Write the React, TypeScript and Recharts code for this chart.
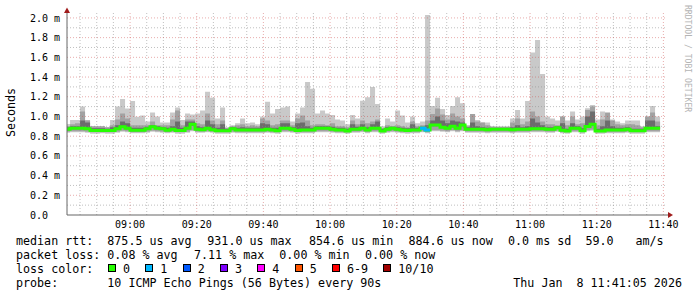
import React from 'react';
import { ComposedChart, Area, Line, XAxis, YAxis, ReferenceLine, ReferenceDot } from 'recharts';

const FONT = '"DejaVu Sans Mono", monospace';

// 90 s bins (minutes since midnight), first bin starts 08:40:30
const binStart = 520.5;
const binStep = 1.5;
const xDomain: [number, number] = [521.0833, 701.0833];
const yDomain: [number, number] = [0, 2.05];

const xTicks = [540, 560, 580, 600, 620, 640, 660, 680, 700];
const yTicks = [0, 0.2, 0.4, 0.6, 0.8, 1.0, 1.2, 1.4, 1.6, 1.8, 2.0];
const minorY = [0.1, 0.3, 0.5, 0.7, 0.9, 1.1, 1.3, 1.5, 1.7, 1.9];
const majorY = [0.2, 0.4, 0.6, 0.8, 1.0, 1.2, 1.4, 1.6, 1.8, 2.0];
const minorX = [525, 530, 535, 545, 550, 555, 565, 570, 575, 585, 590, 595, 605, 610, 615,
  625, 630, 635, 645, 650, 655, 665, 670, 675, 685, 690, 695];
const majorX = [540, 560, 580, 600, 620, 640, 660, 680, 700];

// smoke: outer band top (max ping, ms)
const maxV = [0.924, 0.964, 0.964, 1.10, 0.964, 0.897, 0.897, 0.897, 0.89, 0.964,
  1.10, 1.178, 1.08, 1.157, 0.998, 1.01, 0.95, 1.04, 1.0, 0.94,
  0.94, 1.04, 1.09, 0.964, 1.03, 1.02, 1.03, 1.06, 1.25, 1.19,
  0.98, 1.09, 0.89, 0.91, 0.93, 0.98, 0.93, 0.94, 0.92, 1.0,
  1.15, 1.03, 1.076, 1.09, 1.10, 0.95, 1.03, 1.09, 1.35, 1.28,
  1.03, 1.06, 1.03, 1.015, 0.97, 0.96, 0.92, 1.015, 0.98, 1.16,
  1.195, 1.30, 1.127, 0.90, 0.98, 0.95, 1.06, 1.01, 0.94, 1.0,
  0.93, 0.95, 2.03, 1.107, 1.19, 1.076, 1.015, 1.107, 1.195, 1.134,
  0.914, 1.025, 0.964, 0.94, 0.94, 0.904, 0.9, 0.9, 0.9, 0.98,
  1.066, 0.98, 1.157, 1.648, 1.777, 1.43, 1.0, 0.98, 0.96, 1.0,
  0.96, 1.05, 0.97, 1.0, 1.083, 1.117, 0.97, 1.05, 0.99, 0.97,
  0.95, 0.93, 0.96, 0.96, 0.96, 0.90, 1.0, 1.107, 1.0];

// middle band top
const p2 = [0.90, 0.92, 0.93, 1.05, 0.96, 0.90, 0.90, 0.90, 0.89, 0.91,
  0.97, 1.03, 0.98, 0.91, 0.91, 0.91, 0.91, 0.95, 0.91, 0.91,
  0.91, 0.97, 1.06, 0.91, 0.97, 0.97, 0.93, 0.92, 1.03, 0.96,
  0.92, 0.96, 0.88, 0.90, 0.91, 0.92, 0.90, 0.91, 0.90, 0.98,
  0.96, 0.91, 0.92, 0.96, 0.96, 0.91, 0.98, 1.01, 0.96, 0.91,
  0.92, 0.92, 0.91, 0.93, 0.90, 0.90, 0.89, 0.96, 0.92, 0.96,
  0.93, 0.95, 0.97, 0.88, 0.91, 0.90, 0.91, 0.90, 0.89, 0.95,
  0.90, 0.91, 0.96, 1.025, 1.08, 1.02, 0.97, 1.03, 1.0, 0.98,
  0.90, 1.025, 0.95, 0.94, 0.91, 0.89, 0.89, 0.89, 0.89, 0.94,
  0.98, 0.92, 0.95, 1.05, 1.0, 0.95, 0.92, 0.92, 0.91, 1.0,
  0.91, 1.0, 0.92, 0.93, 1.066, 1.10, 0.91, 0.97, 1.04, 0.96,
  0.92, 0.91, 0.92, 0.92, 0.91, 0.89, 1.0, 1.04, 0.95];

// inner (dark) band top
const p3 = [0.89, 0.90, 0.90, 0.96, 0.94, 0.88, 0.88, 0.88, 0.875, 0.89,
  0.91, 0.95, 0.93, 0.885, 0.885, 0.885, 0.895, 0.91, 0.90, 0.89,
  0.885, 0.90, 0.95, 0.885, 0.95, 0.95, 0.90, 0.89, 0.96, 0.92,
  0.885, 0.92, 0.875, 0.89, 0.885, 0.89, 0.885, 0.885, 0.885, 0.93,
  0.92, 0.885, 0.885, 0.93, 0.93, 0.89, 0.93, 0.94, 0.90, 0.885,
  0.90, 0.90, 0.90, 0.895, 0.885, 0.885, 0.875, 0.92, 0.895, 0.92,
  0.89, 0.92, 0.95, 0.875, 0.89, 0.895, 0.89, 0.885, 0.88, 0.92,
  0.885, 0.895, 0.91, 0.96, 1.0, 0.96, 0.93, 0.96, 0.95, 0.94,
  0.89, 0.94, 0.90, 0.89, 0.885, 0.885, 0.885, 0.885, 0.885, 0.89,
  0.91, 0.89, 0.90, 0.98, 0.94, 0.91, 0.89, 0.89, 0.90, 0.93,
  0.875, 0.93, 0.90, 0.88, 1.0, 1.05, 0.875, 0.90, 0.96, 0.90,
  0.885, 0.885, 0.89, 0.875, 0.875, 0.875, 0.96, 0.96, 0.90];

// median rtt
const med = [0.87, 0.88, 0.88, 0.88, 0.875, 0.857, 0.857, 0.857, 0.857, 0.857,
  0.875, 0.895, 0.88, 0.86, 0.86, 0.86, 0.875, 0.895, 0.88, 0.875,
  0.86, 0.87, 0.857, 0.857, 0.88, 0.92, 0.87, 0.865, 0.88, 0.865,
  0.855, 0.855, 0.855, 0.875, 0.862, 0.862, 0.862, 0.862, 0.862, 0.862,
  0.87, 0.862, 0.855, 0.88, 0.88, 0.87, 0.857, 0.862, 0.862, 0.862,
  0.88, 0.88, 0.88, 0.87, 0.862, 0.862, 0.853, 0.87, 0.87, 0.88,
  0.862, 0.88, 0.88, 0.853, 0.87, 0.88, 0.87, 0.862, 0.857, 0.862,
  0.862, 0.88, 0.862, 0.914, 0.914, 0.89, 0.88, 0.90, 0.88, 0.914,
  0.87, 0.87, 0.87, 0.87, 0.865, 0.87, 0.87, 0.87, 0.87, 0.865,
  0.87, 0.87, 0.87, 0.875, 0.875, 0.875, 0.87, 0.87, 0.885, 0.86,
  0.853, 0.88, 0.88, 0.855, 0.897, 0.92, 0.853, 0.853, 0.862, 0.862,
  0.862, 0.862, 0.87, 0.855, 0.855, 0.855, 0.88, 0.88, 0.88];

// band bottoms
const lo1 = [0.835, 0.84, 0.84, 0.84, 0.835, 0.825, 0.825, 0.83, 0.825, 0.825,
  0.835, 0.845, 0.84, 0.83, 0.83, 0.83, 0.835, 0.845, 0.84, 0.835,
  0.83, 0.835, 0.825, 0.825, 0.835, 0.85, 0.835, 0.835, 0.84, 0.835,
  0.825, 0.825, 0.825, 0.835, 0.83, 0.83, 0.83, 0.83, 0.83, 0.83,
  0.835, 0.83, 0.825, 0.84, 0.84, 0.835, 0.825, 0.83, 0.83, 0.83,
  0.84, 0.84, 0.84, 0.835, 0.83, 0.83, 0.825, 0.835, 0.835, 0.84,
  0.83, 0.84, 0.84, 0.825, 0.835, 0.84, 0.835, 0.83, 0.825, 0.83,
  0.83, 0.84, 0.83, 0.85, 0.85, 0.845, 0.84, 0.85, 0.84, 0.85,
  0.835, 0.835, 0.835, 0.835, 0.83, 0.835, 0.835, 0.835, 0.835, 0.83,
  0.835, 0.835, 0.835, 0.84, 0.84, 0.84, 0.835, 0.835, 0.845, 0.83,
  0.825, 0.84, 0.84, 0.825, 0.85, 0.855, 0.825, 0.825, 0.83, 0.83,
  0.83, 0.83, 0.835, 0.825, 0.825, 0.825, 0.84, 0.84, 0.84];

const lo2 = [0.845, 0.85, 0.85, 0.85, 0.845, 0.84, 0.84, 0.84, 0.84, 0.84,
  0.845, 0.855, 0.85, 0.84, 0.84, 0.84, 0.845, 0.855, 0.85, 0.845,
  0.84, 0.845, 0.84, 0.84, 0.845, 0.86, 0.845, 0.845, 0.85, 0.845,
  0.84, 0.84, 0.84, 0.845, 0.84, 0.84, 0.84, 0.84, 0.84, 0.84,
  0.845, 0.84, 0.84, 0.85, 0.85, 0.845, 0.84, 0.84, 0.84, 0.84,
  0.85, 0.85, 0.85, 0.845, 0.84, 0.84, 0.84, 0.845, 0.845, 0.85,
  0.84, 0.85, 0.85, 0.84, 0.845, 0.85, 0.845, 0.84, 0.84, 0.84,
  0.84, 0.85, 0.84, 0.86, 0.86, 0.855, 0.85, 0.86, 0.85, 0.86,
  0.845, 0.845, 0.845, 0.845, 0.84, 0.845, 0.845, 0.845, 0.845, 0.84,
  0.845, 0.845, 0.845, 0.85, 0.85, 0.85, 0.845, 0.845, 0.855, 0.84,
  0.84, 0.85, 0.85, 0.84, 0.86, 0.865, 0.84, 0.84, 0.84, 0.84,
  0.84, 0.84, 0.845, 0.84, 0.84, 0.84, 0.85, 0.85, 0.85];

const lo3 = [0.86, 0.87, 0.87, 0.87, 0.865, 0.848, 0.848, 0.848, 0.848, 0.848,
  0.865, 0.885, 0.87, 0.85, 0.85, 0.85, 0.865, 0.885, 0.87, 0.865,
  0.85, 0.86, 0.848, 0.848, 0.87, 0.905, 0.86, 0.855, 0.87, 0.855,
  0.847, 0.847, 0.847, 0.865, 0.852, 0.852, 0.852, 0.852, 0.852, 0.852,
  0.86, 0.852, 0.847, 0.87, 0.87, 0.86, 0.848, 0.852, 0.852, 0.852,
  0.87, 0.87, 0.87, 0.86, 0.852, 0.852, 0.845, 0.86, 0.86, 0.87,
  0.852, 0.87, 0.87, 0.845, 0.86, 0.87, 0.86, 0.852, 0.848, 0.852,
  0.852, 0.87, 0.852, 0.9, 0.9, 0.88, 0.87, 0.89, 0.87, 0.9,
  0.86, 0.86, 0.86, 0.86, 0.855, 0.86, 0.86, 0.86, 0.86, 0.855,
  0.86, 0.86, 0.86, 0.865, 0.865, 0.865, 0.86, 0.86, 0.875, 0.85,
  0.845, 0.87, 0.87, 0.847, 0.885, 0.905, 0.845, 0.845, 0.852, 0.852,
  0.852, 0.852, 0.86, 0.847, 0.847, 0.847, 0.87, 0.87, 0.87];

// lost pings per bin (of 10)
const loss = [0, 0, 0, 0, 0, 0, 0, 0, 0, 0,
  0, 0, 0, 0, 0, 0, 0, 0, 0, 0,
  0, 0, 0, 0, 0, 0, 0, 0, 0, 0,
  0, 0, 0, 0, 0, 0, 0, 0, 0, 0,
  0, 0, 0, 0, 0, 0, 0, 0, 0, 0,
  0, 0, 0, 0, 0, 0, 0, 0, 0, 0,
  0, 0, 0, 0, 0, 0, 0, 0, 0, 0,
  0, 1, 1, 0, 0, 0, 0, 0, 0, 0,
  0, 0, 0, 0, 0, 0, 0, 0, 0, 0,
  0, 0, 0, 0, 0, 0, 0, 0, 0, 0,
  0, 0, 0, 0, 0, 0, 0, 0, 0, 0,
  0, 0, 0, 0, 0, 0, 0, 0, 0];

const lossLegend = [
  { label: '0', color: '#26ff00' },
  { label: '1', color: '#00b8ff' },
  { label: '2', color: '#0059ff' },
  { label: '3', color: '#7e00ff' },
  { label: '4', color: '#ff00ff' },
  { label: '5', color: '#ff5500' },
  { label: '6-9', color: '#ff0000' },
  { label: '10/10', color: '#a10000' },
];

const statsLine1 = [
  { x: 16, s: 'median rtt:' }, { x: 107.3, s: '875.5 us avg' }, { x: 207.3, s: '931.0 us max' },
  { x: 309, s: '854.6 us min' }, { x: 408.5, s: '884.6 us now' }, { x: 508, s: '0.0 ms sd' },
  { x: 585.5, s: '59.0' }, { x: 635.5, s: 'am/s' },
];
const statsLine2 = [
  { x: 16, s: 'packet loss:' }, { x: 107.3, s: '0.08 % avg' }, { x: 194, s: '7.11 % max' },
  { x: 279.3, s: '0.00 % min' }, { x: 365, s: '0.00 % now' },
];
const statsLine4 = [
  { x: 16, s: 'probe:' }, { x: 107.3, s: '10 ICMP Echo Pings (56 Bytes) every 90s' },
  { x: 513.3, s: 'Thu Jan  8 11:41:05 2026' },
];

const rows: any[] = maxV.map((_, i) => ({
  t: binStart + binStep * i,
  b1: [lo1[i], maxV[i]],
  b2: [lo2[i], p2[i]],
  b3: [lo3[i], p3[i]],
  med: med[i],
  medL1: loss[i] > 0 ? med[i] : (i > 0 && loss[i - 1] > 0 ? med[i - 1] : null),
}));
{
  const n = maxV.length;
  const last = rows[n - 1];
  rows.push({ ...last, t: binStart + binStep * n, medL1: loss[n - 1] > 0 ? med[n - 1] : null });
}

const pad = (v: number) => (v < 10 ? '0' + v : '' + v);
const fmtTime = (t: number) => `${pad(Math.floor(t / 60))}:${pad(Math.round(t % 60))}`;
const fmtY = (v: number) => (v === 0 ? '0.0' : `${v.toFixed(1)} m`);

const XTick = (props: any) => {
  const { x, y, payload } = props;
  return (
    <text x={x} y={y + 13} textAnchor="middle" fontFamily={FONT} fontSize={10} fill="#000">
      {fmtTime(payload.value)}
    </text>
  );
};
const YTick = (props: any) => {
  const { x, y, payload } = props;
  return (
    <text x={x - 37} y={y + 3.6} textAnchor="start" fontFamily={FONT} fontSize={10} fill="#000">
      {fmtY(payload.value)}
    </text>
  );
};

const ArrowRight = (props: any) => {
  const { cx, cy } = props;
  return (
    <g>
      <line x1={cx} y1={cy} x2={cx + 2} y2={cy} stroke="#666" />
      <polygon points={`${cx + 1},${cy - 3} ${cx + 6},${cy} ${cx + 1},${cy + 3}`} fill="#a01c1c" />
    </g>
  );
};
const ArrowUp = (props: any) => {
  const { cx, cy } = props;
  return (
    <polygon points={`${cx - 3},${cy} ${cx},${cy - 5.5} ${cx + 3},${cy}`} fill="#a01c1c" />
  );
};

const MINOR = 'rgba(140,140,140,0.55)';
const MAJOR = 'rgba(205,70,70,0.45)';

export default function App() {
  return (
    <div style={{ position: 'absolute', left: 0, top: 0, width: 697, height: 297, background: '#fff', overflow: 'hidden' }}>
      <ComposedChart width={697} height={240} data={rows} margin={{ top: 13, right: 30, bottom: 0, left: 0 }}>
        <XAxis dataKey="t" type="number" domain={xDomain} ticks={xTicks} allowDataOverflow height={25}
          tickLine={false} tickSize={0} tickMargin={0} interval={0} axisLine={{ stroke: '#666' }} tick={<XTick />} />
        <YAxis type="number" domain={yDomain} ticks={yTicks} allowDataOverflow width={67}
          tickLine={false} tickSize={0} tickMargin={0} interval={0} axisLine={{ stroke: '#666' }} tick={<YTick />} />
        <Area dataKey="b1" type="stepAfter" stroke="none" fill="#c9c9c9" fillOpacity={1} isAnimationActive={false} dot={false} activeDot={false} />
        <Area dataKey="b2" type="stepAfter" stroke="none" fill="#a2a2a2" fillOpacity={1} isAnimationActive={false} dot={false} activeDot={false} />
        <Area dataKey="b3" type="stepAfter" stroke="none" fill="#6c6c6c" fillOpacity={1} isAnimationActive={false} dot={false} activeDot={false} />
        {minorY.map((v) => (
          <ReferenceLine key={'my' + v} y={v} stroke={MINOR} strokeDasharray="1 2" />
        ))}
        {minorX.map((v) => (
          <ReferenceLine key={'mx' + v} x={v} stroke={MINOR} strokeDasharray="1 2" />
        ))}
        {majorY.map((v) => (
          <ReferenceLine key={'My' + v} y={v} stroke={MAJOR} strokeDasharray="1 2" />
        ))}
        {majorX.map((v) => (
          <ReferenceLine key={'Mx' + v} x={v} stroke={MAJOR} strokeDasharray="1 2" />
        ))}
        <Line dataKey="med" type="stepAfter" stroke={lossLegend[0].color} strokeWidth={3} dot={false} activeDot={false} isAnimationActive={false} />
        <Line dataKey="medL1" type="stepAfter" stroke={lossLegend[1].color} strokeWidth={3} dot={false} activeDot={false} isAnimationActive={false} connectNulls={false} />
        <ReferenceDot x={xDomain[1]} y={0} r={0} ifOverflow="visible" shape={<ArrowRight />} />
        <ReferenceDot x={xDomain[0]} y={yDomain[1]} r={0} ifOverflow="visible" shape={<ArrowUp />} />
      </ComposedChart>
      <svg width={697} height={297} style={{ position: 'absolute', left: 0, top: 0, pointerEvents: 'none' }}>
        <text transform="translate(15,112.5) rotate(-90)" textAnchor="middle" fontFamily={FONT} fontSize={11.68} fill="#000">Seconds</text>
        <text transform="translate(685,5) rotate(90)" textAnchor="start" fontFamily={FONT} fontSize={8.1} fill="#b4b4b4">RRDTOOL / TOBI OETIKER</text>
        {statsLine1.map((it) => (
          <text key={'a' + it.x} x={it.x} y={245} fontFamily={FONT} fontSize={11.68} fill="#000" style={{ whiteSpace: 'pre' }}>{it.s}</text>
        ))}
        {statsLine2.map((it) => (
          <text key={'b' + it.x} x={it.x} y={259} fontFamily={FONT} fontSize={11.68} fill="#000" style={{ whiteSpace: 'pre' }}>{it.s}</text>
        ))}
        <text x={16} y={273} fontFamily={FONT} fontSize={11.68} fill="#000">loss color:</text>
        {lossLegend.map((it, k) => {
          const bx = 108 + 37.33 * k + (k === 7 ? 14 : 0);
          return (
            <g key={'c' + k}>
              <rect x={Math.round(bx) + 0.5} y={264.5} width={7} height={7} fill={it.color} stroke="#000" strokeWidth={1} />
              <text x={bx + 15} y={273} fontFamily={FONT} fontSize={11.68} fill="#000">{it.label}</text>
            </g>
          );
        })}
        {statsLine4.map((it) => (
          <text key={'d' + it.x} x={it.x} y={287} fontFamily={FONT} fontSize={11.68} fill="#000" style={{ whiteSpace: 'pre' }}>{it.s}</text>
        ))}
      </svg>
    </div>
  );
}
